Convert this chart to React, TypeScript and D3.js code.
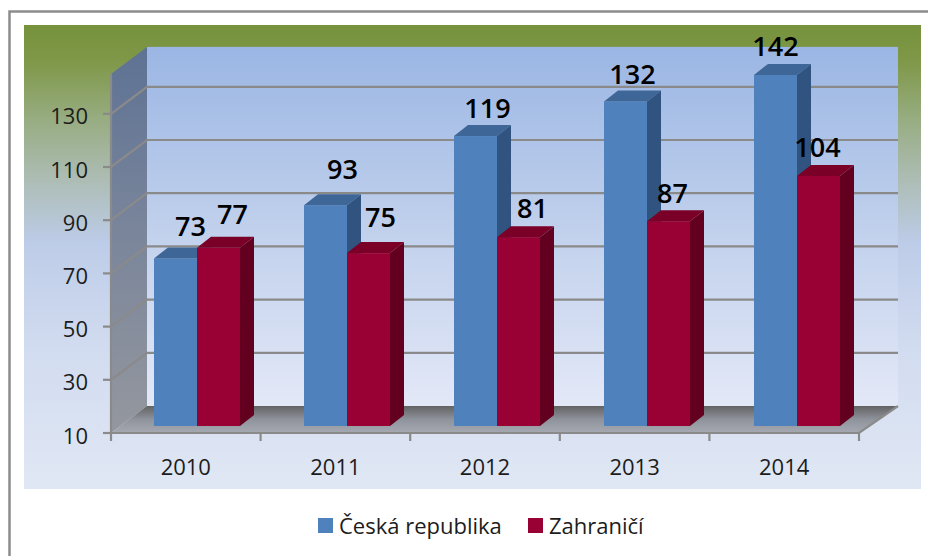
import React from "react";
import * as d3 from "d3";

const years = ["2010", "2011", "2012", "2013", "2014"];
const ceskaRepublika = [73, 93, 119, 132, 142];
const zahranici = [77, 75, 81, 87, 104];
const yTicks = [10, 30, 50, 70, 90, 110, 130];
const seriesNames = ["Česká republika", "Zahraničí"];

const FONT = "'Open Sans', 'Noto Sans', sans-serif";
const DX = 36, DY = -27;
const BDX = 14, BDY = -11, BW = 43;
const FRONT_Y = 433, BAR_BASE = 426;
const blueLift = [-33, -37, -29, -28, -29];
const redLift = [-34, -37, -30, -29, -29];
const blueShift = [15, 17, 12, 7, 0];
const redShift = [14, 12, 14, 4, -1];

export default function App() {
  const y = d3.scaleLinear().domain([10, 130]).range([FRONT_Y, 113.8]);
  const barH = (v: number) => y(10) - y(v);
  const x = d3.scaleBand<string>().domain(years).range([111, 859]);
  const xBars = d3.scaleBand<string>().domain(years).range([111, 861]);
  const step = x.step();
  const topY = y(145);
  const poly = (p: number[][]) => p.map((q) => q.join(",")).join(" ");
  const bar = (left: number, v: number, base: string, top: string, side: string, key: string) => {
    const t = BAR_BASE - barH(v);
    return (
      <g key={key}>
        <rect x={left} y={t} width={BW} height={BAR_BASE - t} fill={base} />
        <polygon points={poly([[left, t], [left + BDX, t + BDY], [left + BW + BDX, t + BDY], [left + BW, t]])} fill={top} />
        <polygon points={poly([[left + BW, t], [left + BW + BDX, t + BDY], [left + BW + BDX, BAR_BASE + BDY], [left + BW, BAR_BASE]])} fill={side} />
      </g>
    );
  };
  return (
    <svg width={928} height={556} style={{ position: "absolute", left: 0, top: 0 }}>
      <defs>
        <linearGradient id="bg" x1="0" y1="0" x2="0" y2="1">
          <stop offset="0" stopColor="#76923c" />
          <stop offset="0.08" stopColor="#7f9849" />
          <stop offset="0.2" stopColor="#97ac80" />
          <stop offset="0.335" stopColor="#adbdb5" />
          <stop offset="0.47" stopColor="#bdcce8" />
          <stop offset="0.7" stopColor="#d2dcf0" />
          <stop offset="1" stopColor="#e0e7f4" />
        </linearGradient>
        <linearGradient id="wall" x1="0" y1="0" x2="0" y2="1">
          <stop offset="0" stopColor="#9bb6e4" />
          <stop offset="0.5" stopColor="#c0d0ec" />
          <stop offset="1" stopColor="#e3e8f7" />
        </linearGradient>
        <linearGradient id="side" x1="0" y1="0" x2="0" y2="1">
          <stop offset="0" stopColor="#5e7294" />
          <stop offset="0.5" stopColor="#7b869b" />
          <stop offset="1" stopColor="#94979e" />
        </linearGradient>
        <linearGradient id="floor" x1="0" y1="0" x2="0" y2="1">
          <stop offset="0" stopColor="#626262" />
          <stop offset="0.5" stopColor="#8f939c" />
          <stop offset="1" stopColor="#a6a9b2" />
        </linearGradient>
      </defs>
      <rect x={9.5} y={11.5} width={930} height={560} fill="#fff" stroke="#8c8c8c" strokeWidth={2.5} />
      <rect x={24} y={25} width={897} height={464} fill="url(#bg)" />

      <rect x={147} y={topY + DY} width={751} height={FRONT_Y + DY - (topY + DY)} fill="url(#wall)" />
      <polygon points={poly([[111, topY], [147, topY + DY], [147, FRONT_Y + DY], [111, FRONT_Y]])} fill="url(#side)" />
      <polygon points={poly([[111, FRONT_Y], [147, FRONT_Y + DY], [898, FRONT_Y + DY], [859, FRONT_Y]])} fill="url(#floor)" />

      {yTicks.slice(1).map((t) => (
        <polyline key={t} points={poly([[111, y(t)], [147, y(t) + DY], [898, y(t) + DY]])} fill="none" stroke="#8a8a8a" strokeWidth={2.2} />
      ))}
      <line x1={111} y1={topY} x2={111} y2={FRONT_Y + 1} stroke="#8a8a8a" strokeWidth={2.2} />
      <polyline points={poly([[111, FRONT_Y], [859, FRONT_Y], [898, FRONT_Y + DY]])} fill="none" stroke="#8a8a8a" strokeWidth={2.2} />

      {yTicks.map((t) => (
        <g key={t}>
          <line x1={103} x2={111} y1={y(t)} y2={y(t)} stroke="#8a8a8a" strokeWidth={2.2} />
          <text x={88} y={y(t) + 1.5} textAnchor="end" dominantBaseline="central" fontFamily={FONT} fontSize={22} fill="#1c1c1c">{t}</text>
        </g>
      ))}
      {years.map((yr) => (
        <line key={yr} x1={x(yr)!} x2={x(yr)!} y1={FRONT_Y} y2={FRONT_Y + 8} stroke="#8a8a8a" strokeWidth={2.2} />
      ))}
      <line x1={859} x2={859} y1={FRONT_Y} y2={FRONT_Y + 8} stroke="#8a8a8a" strokeWidth={2.2} />
      {years.map((yr) => (
        <text key={yr} x={x(yr)! + step / 2} y={466} textAnchor="middle" dominantBaseline="central" fontFamily={FONT} fontSize={22} fill="#1c1c1c">{yr}</text>
      ))}

      {years.map((yr, i) => {
        const l = xBars(yr)! + 43;
        return (
          <g key={yr}>
            {bar(l, ceskaRepublika[i], "#4f81bd", "#3e6797", "#30547f", "b")}
            {bar(l + BW, zahranici[i], "#990033", "#7a0028", "#63001f", "r")}
          </g>
        );
      })}
      {years.map((yr, i) => {
        const l = xBars(yr)! + 43;
        const tb = BAR_BASE - barH(ceskaRepublika[i]);
        const tr = BAR_BASE - barH(zahranici[i]);
        return (
          <g key={yr} fontFamily={FONT} fontSize={27} fontWeight={600} fill="#000" textAnchor="middle" dominantBaseline="central">
            <text x={l + BW / 2 + blueShift[i]} y={tb + blueLift[i]}>{ceskaRepublika[i]}</text>
            <text x={l + BW * 1.5 + redShift[i]} y={tr + redLift[i]}>{zahranici[i]}</text>
          </g>
        );
      })}

      <rect x={318} y={518} width={15} height={15} fill="#4f81bd" />
      <text x={339} y={525} dominantBaseline="central" fontFamily={FONT} fontSize={22} fill="#1c1c1c">{seriesNames[0]}</text>
      <rect x={528} y={518} width={15} height={15} fill="#990033" />
      <text x={549} y={525} dominantBaseline="central" fontFamily={FONT} fontSize={22} fill="#1c1c1c">{seriesNames[1]}</text>
    </svg>
  );
}
